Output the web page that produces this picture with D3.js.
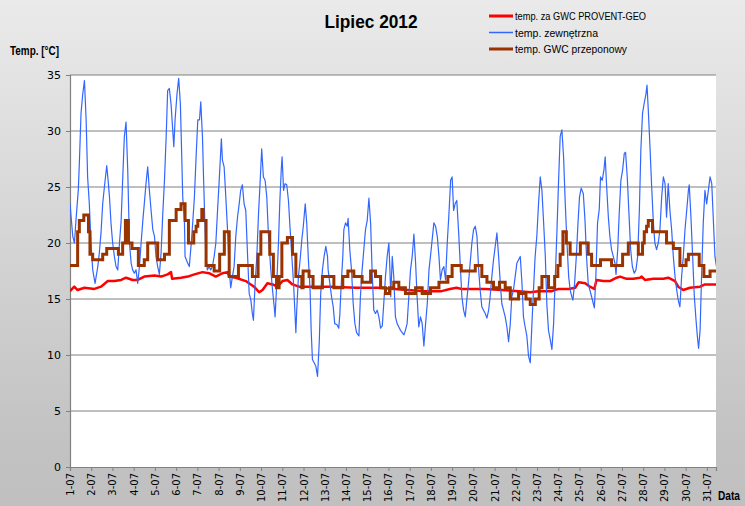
<!DOCTYPE html>
<html><head><meta charset="utf-8">
<script src="https://cdn.jsdelivr.net/npm/d3@7"></script>
<style>body{margin:0;background:#fff}svg{display:block}</style>
</head><body>
<svg id="chart" width="745" height="506"></svg>
<script>
const chartTitle = "Lipiec 2012";
const yAxisTitle = "Temp. [°C]";
const xAxisTitle = "Data";
const seriesNames = ["temp. za GWC PROVENT-GEO", "temp. zewnętrzna", "temp. GWC przeponowy"];
const seriesColors = ["#ff0000", "#3366ff", "#993300"];
const dayLabels = ["1-07","2-07","3-07","4-07","5-07","6-07","7-07","8-07","9-07","10-07","11-07","12-07","13-07","14-07","15-07","16-07","17-07","18-07","19-07","20-07","21-07","22-07","23-07","24-07","25-07","26-07","27-07","28-07","29-07","30-07","31-07"];
const yTicks = [0,5,10,15,20,25,30,35];

// [day offset from 1-07 00:00, temperature]
const provent = [[0,15.7],[0.2,16.1],[0.36,15.8],[0.68,16.0],[1.15,15.9],[1.46,16.1],[1.78,16.6],[2.09,16.6],[2.41,16.7],[2.64,16.9],[2.95,16.7],[3.19,16.7],[3.5,17.0],[3.98,17.1],[4.29,17.0],[4.6,17.2],[4.76,17.4],[4.81,16.8],[5.23,16.9],[5.55,17.0],[5.86,17.2],[6.24,17.4],[6.55,17.3],[6.87,17.0],[7.18,17.3],[7.42,17.4],[7.5,17.0],[7.81,16.9],[8.28,16.6],[8.67,16.1],[8.91,15.6],[9.07,15.8],[9.3,16.4],[9.54,16.3],[9.77,16.1],[10.01,16.6],[10.24,16.7],[10.48,16.3],[10.79,16.1],[11.26,16.1],[12.21,16.1],[13.5,16.0],[14.5,16.0],[15.9,15.8],[16.7,15.7],[17.5,15.7],[17.9,15.9],[18.2,16.0],[18.46,15.9],[18.93,15.9],[19.56,15.9],[20.34,15.8],[21.13,15.7],[21.68,15.6],[22.07,15.7],[22.7,15.7],[23.01,15.9],[23.49,15.9],[23.8,16.0],[23.96,16.5],[24.27,16.4],[24.49,16.1],[24.7,15.9],[24.8,16.7],[25.12,16.6],[25.43,16.6],[25.75,16.9],[25.91,17.0],[26.22,16.8],[26.53,16.8],[26.85,16.9],[26.93,17.0],[27.08,16.7],[27.48,16.8],[27.95,16.8],[28.18,16.9],[28.5,16.6],[28.65,16.1],[28.89,15.8],[29.2,16.0],[29.68,16.1],[29.91,16.3],[30.45,16.3]];

const outside = [[0,23.5],[0.13,20.6],[0.21,20.0],[0.28,22.0],[0.39,24.7],[0.44,27.1],[0.52,31.6],[0.6,33.3],[0.68,34.5],[0.76,31.0],[0.83,25.9],[0.91,23.5],[0.99,20.0],[1.07,17.6],[1.18,16.4],[1.31,17.9],[1.38,19.1],[1.46,20.9],[1.54,23.5],[1.62,25.0],[1.73,26.9],[1.8,25.5],[1.86,24.1],[1.93,21.8],[2.01,20.0],[2.09,18.8],[2.17,17.9],[2.25,17.6],[2.33,20.0],[2.41,22.0],[2.48,25.6],[2.56,29.5],[2.64,30.8],[2.72,26.5],[2.8,20.0],[2.88,18.2],[2.95,17.6],[3.03,17.3],[3.11,17.6],[3.19,16.4],[3.27,17.9],[3.35,20.0],[3.43,22.0],[3.5,23.5],[3.58,25.3],[3.66,26.8],[3.74,24.7],[3.82,22.9],[3.9,21.2],[3.98,20.6],[4.05,18.8],[4.13,17.9],[4.21,17.2],[4.29,19.1],[4.37,22.6],[4.45,25.6],[4.53,29.5],[4.6,33.6],[4.68,33.8],[4.76,32.4],[4.89,28.6],[4.95,31.0],[5.04,33.3],[5.12,34.7],[5.2,32.4],[5.26,28.0],[5.31,24.1],[5.39,22.0],[5.42,18.8],[5.52,18.3],[5.62,17.9],[5.7,19.7],[5.78,21.8],[5.86,24.1],[5.94,27.7],[6.02,31.0],[6.1,31.0],[6.16,32.6],[6.24,29.5],[6.29,25.9],[6.35,22.0],[6.4,18.8],[6.47,17.6],[6.55,17.9],[6.63,17.6],[6.71,17.9],[6.79,18.8],[6.87,20.0],[6.95,22.9],[7.02,25.3],[7.07,27.1],[7.13,29.3],[7.18,27.4],[7.26,26.8],[7.34,24.1],[7.42,21.2],[7.5,17.6],[7.57,16.0],[7.65,17.0],[7.73,17.9],[7.81,20.6],[7.89,22.3],[7.97,23.5],[8.04,24.7],[8.12,25.2],[8.2,23.5],[8.28,22.9],[8.36,19.1],[8.44,15.5],[8.52,14.9],[8.59,13.7],[8.64,13.1],[8.72,16.4],[8.8,18.8],[8.88,22.6],[8.96,25.6],[9.03,28.4],[9.11,25.9],[9.19,25.6],[9.27,24.1],[9.35,20.6],[9.46,17.6],[9.54,15.8],[9.62,14.3],[9.66,13.4],[9.74,16.4],[9.82,20.0],[9.88,23.5],[9.95,26.5],[9.99,27.7],[10.06,24.7],[10.13,25.3],[10.21,25.2],[10.29,23.8],[10.37,21.2],[10.45,18.8],[10.53,16.4],[10.59,14.0],[10.64,12.0],[10.68,14.0],[10.76,17.0],[10.84,18.5],[10.92,20.3],[10.99,21.5],[11.08,23.5],[11.15,21.8],[11.23,18.5],[11.31,15.8],[11.36,12.2],[11.42,9.6],[11.5,9.3],[11.58,9.0],[11.66,8.1],[11.74,11.1],[11.81,15.5],[11.89,17.6],[11.97,18.8],[12.05,19.7],[12.13,18.8],[12.16,17.6],[12.24,16.4],[12.32,15.2],[12.4,14.3],[12.47,12.8],[12.58,12.7],[12.66,12.4],[12.71,13.6],[12.77,16.1],[12.85,18.8],[12.9,21.2],[12.98,21.8],[13.06,21.5],[13.1,22.2],[13.18,19.4],[13.26,17.6],[13.34,14.6],[13.42,12.8],[13.5,12.0],[13.61,11.7],[13.68,15.2],[13.76,17.6],[13.84,19.4],[13.92,21.2],[14.0,22.0],[14.08,24.0],[14.16,21.8],[14.23,17.6],[14.31,14.0],[14.39,13.7],[14.47,14.0],[14.55,13.4],[14.63,12.4],[14.71,12.6],[14.78,14.6],[14.86,17.0],[14.94,18.8],[15.02,20.0],[15.07,17.6],[15.11,15.2],[15.18,18.8],[15.25,17.0],[15.33,13.4],[15.41,12.8],[15.49,12.5],[15.57,12.2],[15.73,11.8],[15.8,12.2],[15.88,12.8],[15.96,15.2],[16.04,17.6],[16.12,18.8],[16.2,20.8],[16.28,18.2],[16.35,15.2],[16.43,12.5],[16.51,13.4],[16.59,12.8],[16.67,10.8],[16.75,12.8],[16.83,14.6],[16.91,17.6],[16.98,18.8],[17.06,20.3],[17.14,21.8],[17.22,21.5],[17.3,20.6],[17.38,18.8],[17.45,16.7],[17.53,17.6],[17.61,17.9],[17.69,16.7],[17.77,20.0],[17.85,22.6],[17.93,25.6],[18.0,25.9],[18.07,22.9],[18.14,23.5],[18.22,23.8],[18.3,21.2],[18.38,18.2],[18.46,15.2],[18.54,14.0],[18.62,13.4],[18.69,14.9],[18.77,16.4],[18.85,18.2],[18.93,20.0],[19.01,21.2],[19.09,21.5],[19.17,20.6],[19.25,17.6],[19.32,15.8],[19.4,14.3],[19.48,14.0],[19.56,13.7],[19.64,13.3],[19.72,14.0],[19.79,15.2],[19.87,17.0],[19.95,18.5],[20.03,19.7],[20.11,20.9],[20.19,18.8],[20.27,16.4],[20.34,14.6],[20.42,14.0],[20.5,13.4],[20.58,12.5],[20.66,11.2],[20.74,12.8],[20.81,15.2],[20.89,15.8],[20.97,17.0],[21.05,18.2],[21.13,18.5],[21.21,18.8],[21.29,16.4],[21.36,13.4],[21.44,12.5],[21.52,11.7],[21.6,9.9],[21.68,9.3],[21.76,12.8],[21.84,16.1],[21.91,18.8],[21.99,20.6],[22.07,23.5],[22.15,25.9],[22.23,24.7],[22.31,21.8],[22.39,18.8],[22.46,14.6],[22.54,12.2],[22.62,11.4],[22.7,10.5],[22.78,12.8],[22.86,17.0],[22.94,21.2],[23.01,25.3],[23.09,29.5],[23.17,30.1],[23.25,27.7],[23.33,23.5],[23.41,20.0],[23.49,17.0],[23.56,15.8],[23.64,15.2],[23.69,14.9],[23.77,16.4],[23.85,18.8],[23.93,21.8],[24.0,24.1],[24.08,24.9],[24.18,24.4],[24.26,22.0],[24.33,18.8],[24.41,16.4],[24.49,15.8],[24.57,15.2],[24.65,14.6],[24.7,14.2],[24.77,17.0],[24.85,21.8],[24.93,23.0],[24.99,25.9],[25.07,25.6],[25.15,26.5],[25.21,27.7],[25.28,25.0],[25.36,22.3],[25.43,20.6],[25.51,19.4],[25.59,18.8],[25.67,18.2],[25.72,17.2],[25.8,19.4],[25.87,22.6],[25.95,25.6],[26.03,26.5],[26.11,28.0],[26.17,28.1],[26.25,25.9],[26.33,22.6],[26.41,19.4],[26.49,17.9],[26.58,17.3],[26.66,17.6],[26.74,18.8],[26.82,22.9],[26.89,28.3],[26.97,31.6],[27.05,32.5],[27.13,33.3],[27.18,34.1],[27.24,31.9],[27.32,28.6],[27.4,25.0],[27.48,21.8],[27.55,20.0],[27.63,19.4],[27.71,20.0],[27.79,21.2],[27.87,24.1],[27.95,25.9],[28.03,25.3],[28.1,22.3],[28.18,25.3],[28.26,22.9],[28.34,21.2],[28.42,18.8],[28.5,17.0],[28.58,15.8],[28.65,14.9],[28.73,14.3],[28.81,17.0],[28.89,18.8],[28.97,21.2],[29.05,22.9],[29.13,24.7],[29.17,25.2],[29.25,22.3],[29.33,18.8],[29.41,15.2],[29.49,13.1],[29.55,11.7],[29.61,10.6],[29.68,12.2],[29.75,17.0],[29.83,21.8],[29.91,24.7],[29.99,23.5],[30.07,24.7],[30.15,25.9],[30.23,25.3],[30.3,22.3],[30.38,18.8],[30.45,17.9]];

const membrane = [[0,18],[0.36,21],[0.44,22],[0.65,22.5],[0.87,21],[0.94,19],[1.07,18.5],[1.54,19],[1.73,19.5],[2.28,19],[2.48,20],[2.61,22],[2.75,20],[2.92,19.5],[3.22,18],[3.5,18.5],[3.66,20],[4.13,18.5],[4.45,19],[4.68,22],[5.0,23],[5.23,23.5],[5.42,22],[5.58,20],[5.83,21],[5.94,21.5],[6.02,22],[6.21,23],[6.27,22],[6.41,18],[6.79,17.5],[7.05,19],[7.27,21],[7.5,17],[7.935,18],[8.59,17],[8.86,19],[8.99,21],[9.41,19],[9.58,17],[9.73,16],[9.85,17],[9.98,20],[10.24,20.5],[10.48,19],[10.64,17],[10.92,16],[10.98,17.5],[11.26,17],[11.45,16],[11.89,17],[12.43,16],[12.85,17],[13.09,17.5],[13.37,17],[13.76,16.5],[14.16,17.5],[14.39,17],[14.63,16],[14.86,15.5],[15.05,16],[15.25,16.5],[15.49,16],[15.8,15.5],[16.28,16],[16.59,15.5],[16.98,16],[17.38,16.5],[17.8,17],[18.0,18],[18.43,17.5],[19.09,18],[19.4,17],[19.64,16.5],[19.95,16],[20.23,16.5],[20.5,16],[20.74,15],[21.13,15.5],[21.48,15],[21.68,14.5],[21.92,15],[22.1,16],[22.23,17],[22.54,16],[22.83,17],[22.98,18],[23.09,19],[23.22,21],[23.38,20],[23.56,19],[24.04,20],[24.41,19],[24.57,18],[24.99,18.5],[25.51,18],[26.03,19],[26.3,20],[26.77,19],[26.97,20],[27.05,21],[27.16,21.5],[27.24,22],[27.44,21],[28.1,20],[28.42,19.5],[28.73,18],[29.02,18.5],[29.13,19],[29.64,18],[29.86,17],[30.15,17.5],[30.45,17.5]];

const svg = d3.select("#chart");
const W = 745, H = 506;
const plot = {left: 70, right: 716, top: 75, bottom: 467};

const defs = svg.append("defs");
const grad = defs.append("linearGradient").attr("id","bg").attr("x1",0).attr("y1",0).attr("x2",0).attr("y2",1);
grad.append("stop").attr("offset","0%").attr("stop-color","#eaeaea");
grad.append("stop").attr("offset","88%").attr("stop-color","#c2c2c2");
grad.append("stop").attr("offset","100%").attr("stop-color","#c0c0c0");
defs.append("clipPath").attr("id","clip").append("rect")
  .attr("x",plot.left).attr("y",plot.top).attr("width",plot.right-plot.left).attr("height",plot.bottom-plot.top);

svg.append("rect").attr("width",W).attr("height",H).attr("fill","url(#bg)");
svg.append("rect").attr("x",plot.left).attr("y",plot.top).attr("width",plot.right-plot.left).attr("height",plot.bottom-plot.top).attr("fill","#ffffff");

const x = d3.scaleLinear().domain([0, 30.43]).range([plot.left, plot.right]);
const y = d3.scaleLinear().domain([0, 35]).range([plot.bottom, plot.top]);

// grid
svg.append("g").selectAll("line").data(yTicks.filter(d => d > 0)).join("line")
  .attr("x1",plot.left).attr("x2",plot.right)
  .attr("y1",d => y(d)).attr("y2",d => y(d))
  .attr("stroke","#808080").attr("stroke-width",1.2);

// y axis
const yAxis = d3.axisLeft(y).tickValues(yTicks).tickSize(4).tickPadding(5).tickFormat(d3.format("d"));
const gy = svg.append("g").attr("transform",`translate(${plot.left},0)`).call(yAxis);
gy.select(".domain").attr("stroke","#808080").attr("stroke-width",1.2);
gy.selectAll(".tick line").attr("stroke","#808080");
gy.selectAll(".tick text").attr("font-family","'DejaVu Sans', sans-serif").attr("font-size","11px").attr("fill","#000");

// x axis
const xAxis = d3.axisBottom(x).tickValues(d3.range(dayLabels.length)).tickSize(4).tickFormat((d,i) => dayLabels[i]);
const gx = svg.append("g").attr("transform",`translate(0,${plot.bottom})`).call(xAxis);
gx.select(".domain").attr("stroke","#808080").attr("stroke-width",1.2);
gx.selectAll(".tick line").attr("stroke","#808080");
gx.selectAll(".tick text")
  .attr("font-family","'DejaVu Sans', sans-serif").attr("font-size","10px").attr("fill","#000")
  .attr("text-anchor","end").attr("transform","rotate(-90)")
  .attr("x",-6).attr("y",0).attr("dy","0.35em");

// series
const lineGen = d3.line().x(d => x(d[0])).y(d => y(d[1]));
const stepGen = d3.line().x(d => x(d[0])).y(d => y(d[1])).curve(d3.curveStepAfter);
const g = svg.append("g").attr("clip-path","url(#clip)");
g.append("path").datum(provent).attr("d",lineGen).attr("fill","none")
  .attr("stroke",seriesColors[0]).attr("stroke-width",2.5).attr("stroke-linejoin","round");
g.append("path").datum(outside).attr("d",lineGen).attr("fill","none")
  .attr("stroke",seriesColors[1]).attr("stroke-width",1.2).attr("stroke-linejoin","round");
g.append("path").datum(membrane).attr("d",stepGen).attr("fill","none")
  .attr("stroke",seriesColors[2]).attr("stroke-width",3);

// title
svg.append("text").attr("x",371).attr("y",28).attr("text-anchor","middle")
  .attr("font-family","'Liberation Sans', Arial, sans-serif").attr("font-weight","bold").attr("font-size","19px")
  .attr("textLength",93).attr("lengthAdjust","spacingAndGlyphs").text(chartTitle);

// axis titles
svg.append("text").attr("x",10).attr("y",55)
  .attr("font-family","'Liberation Sans', Arial, sans-serif").attr("font-weight","bold").attr("font-size","12px")
  .attr("textLength",49).attr("lengthAdjust","spacingAndGlyphs").text(yAxisTitle);
svg.append("text").attr("x",718).attr("y",500)
  .attr("font-family","'Liberation Sans', Arial, sans-serif").attr("font-weight","bold").attr("font-size","12px")
  .attr("textLength",22).attr("lengthAdjust","spacingAndGlyphs").text(xAxisTitle);

// legend
const legendW = [131, 83, 112];
const legendWidths = [3, 1.5, 3];
const lg = svg.append("g");
seriesNames.forEach((name, i) => {
  const ly = 16 + i * 16.5;
  lg.append("line").attr("x1",489).attr("x2",513).attr("y1",ly).attr("y2",ly)
    .attr("stroke",seriesColors[i]).attr("stroke-width",legendWidths[i]);
  lg.append("text").attr("x",515).attr("y",ly).attr("dy","0.35em")
    .attr("font-family","'Liberation Sans', Arial, sans-serif").attr("font-size","11.5px").attr("fill","#000")
    .attr("textLength",legendW[i]).attr("lengthAdjust","spacingAndGlyphs").text(name);
});
</script>
</body></html>
